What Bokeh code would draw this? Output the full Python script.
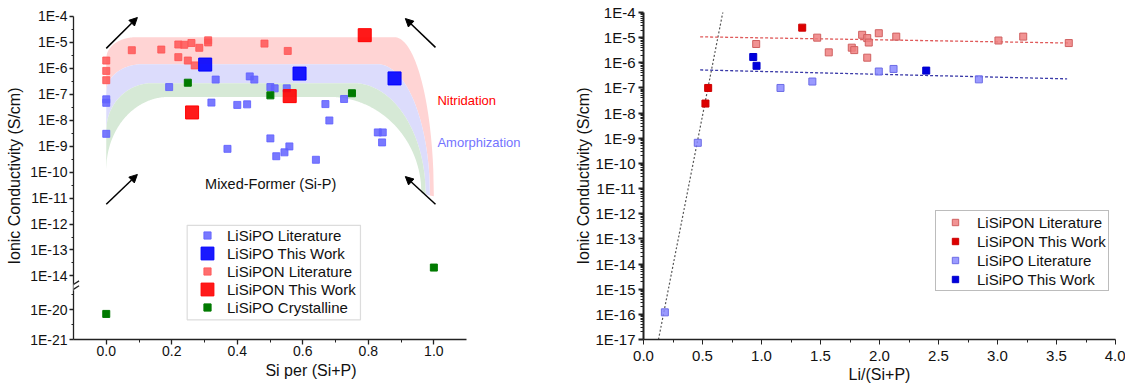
import numpy as np
from bokeh.plotting import figure
from bokeh.layouts import row
from bokeh.models import (Range1d, FixedTicker, CustomJSTickFormatter, Legend, LegendItem,
                          Label, Arrow, NormalHead, BoxAnnotation)
from bokeh.embed import file_html
from bokeh.resources import INLINE

FONT = "Liberation Sans"

# ---------------- Left panel data: conductivity vs Si/(Si+P) ----------------
lisipo_lit_si = [0.0, 0.0, 0.0, 0.192, 0.334, 0.321, 0.438, 0.452, 0.501, 0.514, 0.551, 0.400,
                 0.430, 0.669, 0.726, 0.681, 0.501, 0.370, 0.519, 0.544, 0.559, 0.640, 0.829,
                 0.844, 0.842]
lisipo_lit_sig = [6.4e-8, 4.7e-8, 3.0e-9, 1.9e-7, 3.7e-7, 4.8e-8, 4.9e-7, 3.7e-7, 1.9e-7, 1.7e-7,
                  1.7e-7, 3.9e-8, 4.1e-8, 4.2e-8, 6.6e-8, 9.8e-9, 2.0e-9, 7.9e-10, 4.1e-10,
                  5.8e-10, 9.8e-10, 3.0e-10, 3.4e-9, 3.4e-9, 1.4e-9]
lisipo_work_si = [0.302, 0.590, 0.880]
lisipo_work_sig = [1.4e-6, 6.3e-7, 4.1e-7]
lisipon_lit_si = [0.0, 0.0, 0.0, 0.078, 0.168, 0.220, 0.238, 0.260, 0.284, 0.311, 0.311, 0.220,
                  0.249, 0.270, 0.483, 0.554]
lisipon_lit_sig = [2.0e-6, 8.0e-7, 3.5e-7, 5.0e-6, 5.3e-6, 8.3e-6, 8.1e-6, 9.5e-6, 6.2e-6, 1.2e-5,
                   1.0e-5, 2.7e-6, 2.0e-6, 1.3e-6, 9.0e-6, 4.7e-6]
lisipon_work_si = [0.262, 0.560, 0.789]
lisipon_work_sig = [2.0e-8, 8.5e-8, 1.9e-5]
cryst_si = [0.0, 0.249, 0.501, 0.750, 1.0]
cryst_sig = [7.2e-21, 2.8e-7, 9.1e-8, 1.1e-7, 2.1e-14]

left_y_major = [1e-4, 1e-5, 1e-6, 1e-7, 1e-8, 1e-9, 1e-10, 1e-11, 1e-12, 1e-13, 1e-14, 1e-20, 1e-21]
left_x_major = [0.0, 0.2, 0.4, 0.6, 0.8, 1.0]

# ---------------- Right panel data: conductivity vs Li/(Si+P) ----------------
lipon_lit_x = [0.955, 1.472, 1.570, 1.765, 1.786, 1.853, 1.896, 1.909, 1.896, 1.994, 2.142,
               3.008, 3.218, 3.604]
lipon_lit_y = [5.6e-6, 1.0e-5, 2.6e-6, 4.0e-6, 3.2e-6, 1.3e-5, 9.6e-6, 6.4e-6, 1.6e-6, 1.5e-5,
               1.1e-5, 7.7e-6, 1.1e-5, 6.1e-6]
lipon_work_x = [0.525, 0.548, 1.345]
lipon_work_y = [2.4e-8, 1.0e-7, 2.5e-5]
lipo_lit_x = [0.181, 0.460, 1.161, 1.431, 1.994, 2.119, 2.842]
lipo_lit_y = [1.2e-16, 6.6e-10, 1.0e-7, 1.8e-7, 4.5e-7, 5.7e-7, 2.2e-7]
lipo_work_x = [0.930, 0.958, 2.396]
lipo_work_y = [1.7e-6, 7.6e-7, 4.9e-7]

steep_fit_x = [0.127, 0.678]
steep_fit_y = [1e-17, 1.4e-4]
lipon_fit_x = [0.48, 3.62]
lipon_fit_y = [1.08e-5, 6.1e-6]
lipo_fit_x = [0.48, 3.59]
lipo_fit_y = [5.2e-7, 2.3e-7]

right_x_major = [0.0, 0.5, 1.0, 1.5, 2.0, 2.5, 3.0, 3.5, 4.0]

# ---------------- broken log axis helper (left panel) ----------------
BREAK_LOW = -15.0
SEG_TOP = -15.3
SEG_SCALE = 1.15


def brk(vals):
    l = np.log10(np.asarray(vals, dtype=float))
    return np.where(l >= BREAK_LOW, l, SEG_TOP + (l + 20.0) * SEG_SCALE)


def style_axis(ax, tick_size, label_size):
    ax.axis_label_text_font = FONT
    ax.axis_label_text_font_style = "normal"
    ax.axis_label_text_font_size = label_size
    ax.axis_label_text_color = "#111111"
    ax.major_label_text_font = FONT
    ax.major_label_text_font_size = tick_size
    ax.major_label_text_color = "#111111"
    ax.axis_line_color = "#222222"
    ax.major_tick_line_color = "#222222"
    ax.minor_tick_line_color = "#222222"
    ax.major_tick_in = 0
    ax.minor_tick_in = 0


U_BOTTOM = float(brk([1e-21])[0])

# ================= LEFT FIGURE =================
p1 = figure(width=548, height=385, output_backend="svg", toolbar_location=None,
            x_range=Range1d(-0.1, 1.35), y_range=Range1d(U_BOTTOM, -3.847),
            min_border_left=73, min_border_right=0, min_border_top=12, min_border_bottom=44,
            background_fill_color="white", border_fill_color="white")
p1.outline_line_color = None
p1.grid.visible = False


def boundary(u_plat, u_left, r_left, x_end, u_right, r_right, n=600):
    xs = np.linspace(0.0, x_end, n)
    u = np.full_like(xs, u_plat)
    m = xs < r_left
    t = (r_left - xs[m]) / r_left
    u[m] = u_left + (u_plat - u_left) * np.sqrt(np.clip(1 - t ** 2, 0, 1))
    m = xs > x_end - r_right
    t = (xs[m] - (x_end - r_right)) / r_right
    u[m] = u_right + (u_plat - u_right) * np.sqrt(np.clip(1 - t ** 2, 0, 1))
    return xs, u


b0 = boundary(-4.80, -5.61, 0.09, 1.000, -10.93, 0.12)
b1 = boundary(-5.84, -6.91, 0.11, 0.988, -10.90, 0.16)
b2 = boundary(-6.57, -8.40, 0.14, 0.975, -10.85, 0.22)
b3 = boundary(-7.10, -9.90, 0.19, 0.962, -10.80, 0.28)
for top, bot, col in [(b0, b1, "#ffd4d4"), (b1, b2, "#dcdcfc"), (b2, b3, "#d6e9d6")]:
    p1.patch(np.concatenate([top[0], bot[0][::-1]]), np.concatenate([top[1], bot[1][::-1]]),
             fill_color=col, line_color=None)

r_bl = p1.scatter(lisipo_lit_si, brk(lisipo_lit_sig), marker="square", size=7,
                  fill_color="#6161ff", line_color="#6161ff", fill_alpha=0.85, line_alpha=0.85)
r_rl = p1.scatter(lisipon_lit_si, brk(lisipon_lit_sig), marker="square", size=7,
                  fill_color="#ff5555", line_color="#ff5555", fill_alpha=0.85, line_alpha=0.85)
r_bw = p1.scatter(lisipo_work_si, brk(lisipo_work_sig), marker="square", size=13,
                  fill_color="#0000ff", line_color="#0000ff", fill_alpha=0.9)
r_rw = p1.scatter(lisipon_work_si, brk(lisipon_work_sig), marker="square", size=13,
                  fill_color="#ff0000", line_color="#ff0000", fill_alpha=0.9)
r_g = p1.scatter(cryst_si, brk(cryst_sig), marker="square", size=7,
                 fill_color="#007a00", line_color="#007a00")

p1.xaxis.ticker = FixedTicker(ticks=left_x_major, minor_ticks=[0.1, 0.3, 0.5, 0.7, 0.9])
p1.xaxis.formatter = CustomJSTickFormatter(code="return tick.toFixed(1);")
p1.xaxis.axis_label = "Si per (Si+P)"
p1.xaxis.bounds = (-0.1, 1.1)
p1.yaxis.ticker = FixedTicker(
    ticks=[float(v) for v in brk(left_y_major)],
    minor_ticks=[-4.5 - i for i in range(10)] + [float(v) for v in brk([10 ** -19.5, 10 ** -20.5])])
p1.yaxis.formatter = CustomJSTickFormatter(
    args=dict(lo=BREAK_LOW, top=SEG_TOP, sc=SEG_SCALE),
    code="const v = tick >= lo ? tick : -20 + (tick - top)/sc; return '1E' + Math.round(v);")
p1.yaxis.axis_label = "Ionic Conductivity (S/cm)"
p1.yaxis.bounds = (U_BOTTOM, -4.0)
for ax in (p1.xaxis[0], p1.yaxis[0]):
    style_axis(ax, "14px", "16px")
    ax.axis_line_width = 1.3
    ax.major_tick_line_width = 1.3
p1.xaxis.major_tick_out = 5
p1.xaxis.minor_tick_out = 3
p1.xaxis.major_label_standoff = 1
p1.xaxis.axis_label_standoff = 3
p1.yaxis.major_tick_out = 4
p1.yaxis.minor_tick_out = 2
p1.yaxis.major_label_standoff = 2
p1.yaxis.axis_label_standoff = 4

# axis break marks
p1.add_layout(Arrow(x_start=-0.1, y_start=-14.30, x_end=-0.1, y_end=-14.56, start=None, end=None,
                    line_color="white", line_width=4))
for u0 in (-14.46, -14.65):
    p1.add_layout(Arrow(x_start=-0.117, y_start=u0, x_end=-0.083, y_end=u0 + 0.27,
                        start=None, end=None, line_color="#222222", line_width=1.3))

for xs_, ys_, xe_, ye_ in [(0.0, -5.23, 0.095, -4.04), (0.0, -11.24, 0.095, -10.09),
                           (1.005, -5.19, 0.913, -4.08), (1.005, -11.24, 0.913, -10.17)]:
    p1.add_layout(Arrow(x_start=xs_, y_start=ys_, x_end=xe_, y_end=ye_, line_width=1.5,
                        line_color="black",
                        end=NormalHead(size=8, fill_color="black", line_color="black")))

p1.add_layout(Label(x=1.011, y=-7.22, text="Nitridation", text_color="#ff0000",
                    text_font=FONT, text_font_size="13px", text_baseline="middle"))
p1.add_layout(Label(x=1.011, y=-8.87, text="Amorphization", text_color="#7373ff",
                    text_font=FONT, text_font_size="13px", text_baseline="middle"))
p1.add_layout(Label(x=0.502, y=-10.47, text="Mixed-Former (Si-P)", text_color="#111111",
                    text_font=FONT, text_font_size="14.5px", text_baseline="middle",
                    text_align="center"))

p1.add_layout(BoxAnnotation(left=0.247, right=0.776, top=-12.05, bottom=-15.69,
                            fill_color="white", fill_alpha=1.0, line_color="#8a8a8a",
                            line_width=1.2))
legA = Legend(items=[LegendItem(label="LiSiPO Literature", renderers=[r_bl]),
                     LegendItem(label="LiSiPON Literature", renderers=[r_rl]),
                     LegendItem(label="LiSiPO Crystalline", renderers=[r_g])],
              location=(114, 21), padding=2, spacing=18, glyph_width=36, glyph_height=18,
              label_height=18, label_standoff=2, margin=0,
              label_text_font=FONT, label_text_font_size="15px", label_text_color="#111111",
              background_fill_alpha=0, border_line_alpha=0)
legB = Legend(items=[LegendItem(label="LiSiPO This Work", renderers=[r_bw]),
                     LegendItem(label="LiSiPON This Work", renderers=[r_rw])],
              location=(114, 30), padding=4, spacing=4, glyph_width=32, glyph_height=32,
              label_height=18, label_standoff=4, margin=0,
              label_text_font=FONT, label_text_font_size="15px", label_text_color="#111111",
              background_fill_alpha=0, border_line_alpha=0)
p1.add_layout(legA)
p1.add_layout(legB)

# ================= RIGHT FIGURE =================
p2 = figure(width=577, height=385, output_backend="svg", toolbar_location=None,
            y_axis_type="log", x_range=Range1d(0, 4), y_range=Range1d(1e-17, 1e-4),
            min_border_left=95, min_border_right=10, min_border_top=12, min_border_bottom=44,
            background_fill_color="white", border_fill_color="white")
p2.outline_line_color = None
p2.grid.visible = False

p2.line(steep_fit_x, steep_fit_y, line_color="#555555", line_dash="2 2", line_width=1.2)
p2.line(lipon_fit_x, lipon_fit_y, line_color="#e05a5a", line_dash="3 2", line_width=1.3)
p2.line(lipo_fit_x, lipo_fit_y, line_color="#3a3aa8", line_dash="3 2", line_width=1.3)

q_rl = p2.scatter(lipon_lit_x, lipon_lit_y, marker="square", size=7, fill_color="#ee8080",
                  line_color="#d06060", fill_alpha=0.85)
q_rw = p2.scatter(lipon_work_x, lipon_work_y, marker="square", size=7, fill_color="#dd0000",
                  line_color="#cc0000")
q_bl = p2.scatter(lipo_lit_x, lipo_lit_y, marker="square", size=7, fill_color="#8888ff",
                  line_color="#6c6ce6", fill_alpha=0.85)
q_bw = p2.scatter(lipo_work_x, lipo_work_y, marker="square", size=7, fill_color="#0000dd",
                  line_color="#0000cc")

p2.xaxis.ticker = FixedTicker(ticks=right_x_major,
                              minor_ticks=[0.25 + 0.5 * i for i in range(8)])
p2.xaxis.formatter = CustomJSTickFormatter(code="return tick.toFixed(1);")
p2.xaxis.axis_label = "Li/(Si+P)"
p2.yaxis.ticker = FixedTicker(
    ticks=[10.0 ** e for e in range(-17, -3)],
    minor_ticks=[k * 10.0 ** e for e in range(-17, -4) for k in range(2, 10)])
p2.yaxis.formatter = CustomJSTickFormatter(code="return '1E' + Math.round(Math.log10(tick));")
p2.yaxis.axis_label = "Ionic Conductivity (S/cm)"
for ax in (p2.xaxis[0], p2.yaxis[0]):
    style_axis(ax, "15px", "16px")
p2.yaxis.axis_line_width = 2
p2.yaxis.major_tick_line_width = 2
p2.yaxis.major_tick_out = 5
p2.yaxis.minor_tick_out = 3
p2.yaxis.major_label_standoff = 3
p2.yaxis.axis_label_standoff = 0
p2.xaxis.axis_line_width = 1.5
p2.xaxis.major_tick_out = 5
p2.xaxis.minor_tick_out = 3
p2.xaxis.major_label_standoff = 6
p2.xaxis.axis_label_standoff = 2

legR = Legend(items=[LegendItem(label="LiSiPON Literature", renderers=[q_rl]),
                     LegendItem(label="LiSiPON This Work", renderers=[q_rw]),
                     LegendItem(label="LiSiPO Literature", renderers=[q_bl]),
                     LegendItem(label="LiSiPO This Work", renderers=[q_bw])],
              location=(292, 48), padding=2, spacing=1, glyph_width=34, glyph_height=16,
              label_height=18, label_standoff=5, margin=0,
              label_text_font=FONT, label_text_font_size="15px", label_text_color="#111111",
              background_fill_color="white", border_line_color="#7a7a7a", border_line_width=1.2)
p2.add_layout(legR)

layout = row(p1, p2, spacing=0)
open("out.html", "w").write(file_html(layout, INLINE))
